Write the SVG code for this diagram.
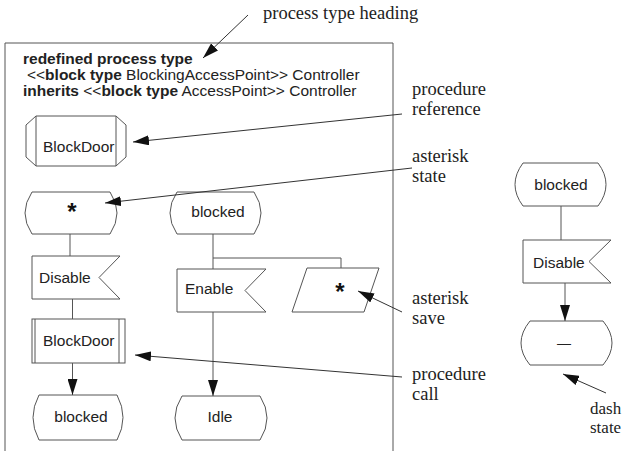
<svg xmlns="http://www.w3.org/2000/svg" width="624" height="451" viewBox="0 0 624 451">
<style>
.shape{fill:#fff;stroke:#555;stroke-width:1}
.ln{fill:none;stroke:#555;stroke-width:1}
.ann{fill:none;stroke:#333;stroke-width:1}
.t{font-family:"Liberation Sans",Arial,sans-serif;font-size:15.5px;fill:#222}
.b{font-weight:bold}
.star{font-family:"Liberation Sans",Arial,sans-serif;font-size:24px;font-weight:bold;fill:#111}
.a{font-family:"Liberation Serif","Times New Roman",serif;font-size:18.5px;fill:#222}
.a2{font-family:"Liberation Serif","Times New Roman",serif;font-size:17px;fill:#222}
</style>
<defs>
<marker id="ah" viewBox="0 0 16 10" refX="16" refY="5" markerWidth="16" markerHeight="10" markerUnits="userSpaceOnUse" orient="auto">
<path d="M0,0 L16,5 L0,10 z" fill="#111"/>
</marker>
</defs>
<rect width="624" height="451" fill="#fff"/>
<g id="frame">
<path class="ln" d="M5,451 L5,43 L393,43 L393,451"/>
<text class="t" x="23" y="64"><tspan class="b">redefined process type</tspan></text>
<text class="t" x="27" y="80">&lt;&lt;<tspan class="b">block type</tspan> BlockingAccessPoint&gt;&gt; Controller</text>
<text class="t" x="23" y="96"><tspan class="b">inherits</tspan> &lt;&lt;<tspan class="b">block type</tspan> AccessPoint&gt;&gt; Controller</text>
</g>
<g id="procref">
<path class="shape" d="M36,116 L116,116 L126,125 L126,157 L116,166 L36,166 L26,157 L26,125 Z"/>
<path class="ln" d="M36,116 V166 M116,116 V166"/>
<text class="t" x="43" y="152">BlockDoor</text>
</g>
<g id="stateStar">
<path class="shape" d="M32,192 L110,192 Q124,213 110,234 L32,234 Q18,213 32,192 Z"/>
<text class="star" x="72" y="220" text-anchor="middle">*</text>
</g>
<g id="inputDisable">
<path class="shape" d="M32,256 L120,256 L99,277.5 L120,299 L32,299 Z"/>
<text class="t" x="39" y="283">Disable</text>
</g>
<g id="proccall">
<rect class="shape" x="32" y="319" width="93" height="44"/>
<path class="ln" d="M35,319 V363 M119,319 V363"/>
<text class="t" x="43" y="346">BlockDoor</text>
</g>
<g id="stateBlockedLeft">
<path class="shape" d="M39,395 L117,395 Q129,417.5 117,440 L39,440 Q27,417.5 39,395 Z"/>
<text class="t" x="81" y="422" text-anchor="middle">blocked</text>
</g>
<g id="stateBlockedMid">
<path class="shape" d="M177,192 L254,192 Q268,213 254,234 L177,234 Q163,213 177,192 Z"/>
<text class="t" x="218" y="217" text-anchor="middle">blocked</text>
</g>
<g id="inputEnable">
<path class="shape" d="M177,269 L266,269 L245,290.5 L266,312 L177,312 Z"/>
<text class="t" x="185" y="294">Enable</text>
</g>
<g id="saveStar">
<path class="shape" d="M307,268 L379,268 L364,312 L292,312 Z"/>
<text class="star" x="340" y="300" text-anchor="middle">*</text>
</g>
<g id="stateIdle">
<path class="shape" d="M182,396 L260,396 Q274,418 260,440 L182,440 Q168,418 182,396 Z"/>
<text class="t" x="220" y="422" text-anchor="middle">Idle</text>
</g>
<g id="stateBlockedRight">
<path class="shape" d="M523,163 L598,163 Q614,184.5 598,206 L523,206 Q507,184.5 523,163 Z"/>
<text class="t" x="561" y="190" text-anchor="middle">blocked</text>
</g>
<g id="inputDisableRight">
<path class="shape" d="M523,240 L611,240 L589,261.5 L611,283 L523,283 Z"/>
<text class="t" x="533" y="268">Disable</text>
</g>
<g id="stateDash">
<path class="shape" d="M530,321 L603,321 Q621,343 603,365 L530,365 Q512,343 530,321 Z"/>
<text class="t" x="564" y="348" text-anchor="middle" style="font-size:14px">—</text>
</g>
<g id="connectors">
<path class="ln" d="M70,234 V256"/>
<path class="ln" d="M72.5,299 V319"/>
<path class="ln" d="M72.5,363 V395" marker-end="url(#ah)"/>
<path class="ln" d="M213,234 V269"/>
<path class="ln" d="M213,258 H341 V268"/>
<path class="ln" d="M213,312 V396" marker-end="url(#ah)"/>
<path class="ln" d="M561,206 V240"/>
<path class="ln" d="M565,283 V321" marker-end="url(#ah)"/>
</g>
<g id="annotations">
<path class="ann" d="M248,15 L203,58" marker-end="url(#ah)"/>
<path class="ann" d="M402,114 L133,142" marker-end="url(#ah)"/>
<path class="ann" d="M412,168 L105,203" marker-end="url(#ah)"/>
<path class="ann" d="M402,312 L358,291" marker-end="url(#ah)"/>
<path class="ann" d="M402,377 L135,355" marker-end="url(#ah)"/>
<path class="ann" d="M606,393 L563,374" marker-end="url(#ah)"/>
<text class="a" x="263" y="19">process type heading</text>
<text class="a" x="412" y="95">procedure</text>
<text class="a" x="412" y="115">reference</text>
<text class="a" x="412" y="162">asterisk</text>
<text class="a" x="412" y="182">state</text>
<text class="a" x="412" y="304">asterisk</text>
<text class="a" x="412" y="324">save</text>
<text class="a" x="412" y="380">procedure</text>
<text class="a" x="412" y="400">call</text>
<text class="a2" x="590" y="414">dash</text>
<text class="a2" x="590" y="433">state</text>
</g>
</svg>
